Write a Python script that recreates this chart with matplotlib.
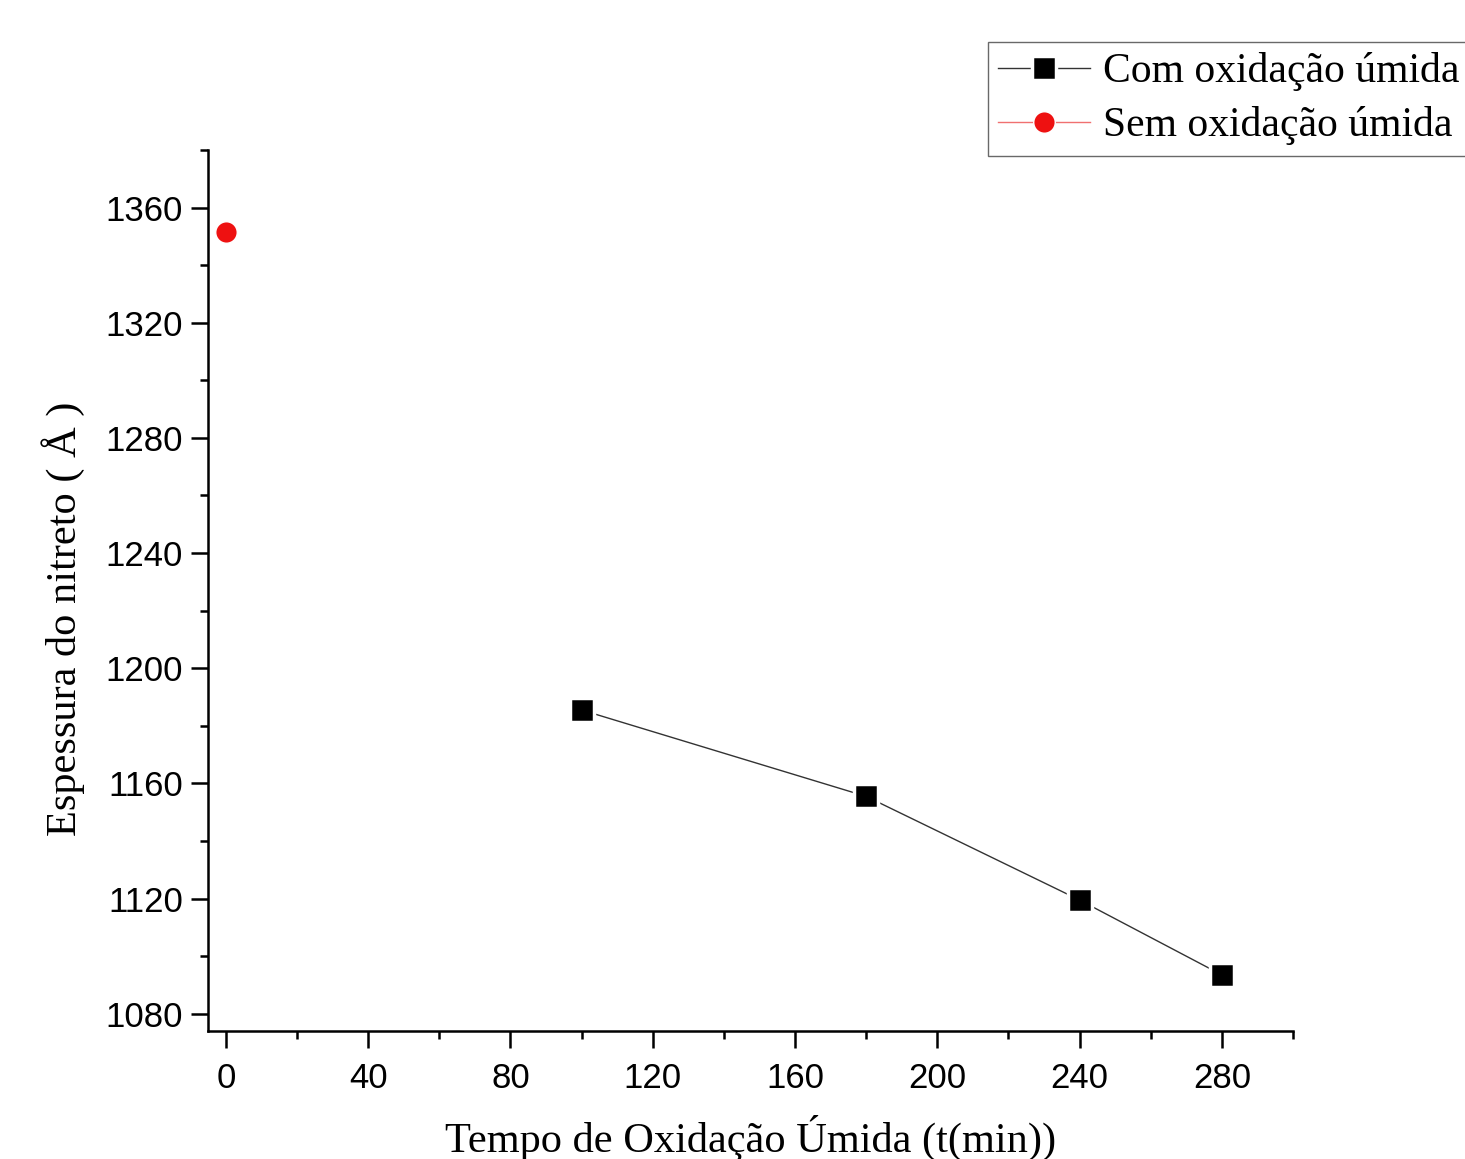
import matplotlib
matplotlib.use('Agg')
import matplotlib.pyplot as plt
from matplotlib.ticker import MultipleLocator

# Data
t_com = [100, 180, 240, 280]
esp_com = [1185.5, 1155.5, 1119.5, 1093.5]
t_sem = [0]
esp_sem = [1351.5]

fig = plt.figure(figsize=(14.65, 11.59), dpi=100)
ax = fig.add_axes([0.142, 0.1104, 0.7406, 0.7602])

ax.plot(t_com, esp_com, color='#333333', lw=1.0, marker='s', ms=17,
        mfc='black', mec='white', mew=2.5, label='Com oxidação úmida')
ax.plot(t_sem, esp_sem, color='#f07070', lw=1.0, marker='o', ms=15.5,
        mfc='#ee1111', mec='white', mew=1.0, label='Sem oxidação úmida')

ax.set_xlim(-5, 300)
ax.set_ylim(1074, 1380)
ax.xaxis.set_major_locator(MultipleLocator(40))
ax.xaxis.set_minor_locator(MultipleLocator(20))
ax.yaxis.set_major_locator(MultipleLocator(40))
ax.yaxis.set_minor_locator(MultipleLocator(20))

for s in ['top', 'right']:
    ax.spines[s].set_visible(False)
for s in ['left', 'bottom']:
    ax.spines[s].set_linewidth(1.8)

ax.tick_params(which='major', direction='out', length=12, width=1.8,
               labelsize=25)
ax.tick_params(axis='x', which='major', pad=10)
ax.tick_params(axis='y', which='major', pad=6)
ax.tick_params(which='minor', direction='out', length=6, width=1.8)
for lbl in ax.get_xticklabels() + ax.get_yticklabels():
    lbl.set_fontfamily('Liberation Sans')

ax.set_xlabel('Tempo de Oxidação Úmida (t(min))', fontfamily='Liberation Serif',
              fontsize=30.5, labelpad=15)
ax.set_ylabel('Espessura do nitreto ( Å )', fontfamily='Liberation Serif',
              fontsize=30.5, labelpad=15)
ax.yaxis.label.set_y(0.468)

leg = fig.legend(loc='upper left', bbox_to_anchor=(988 / 1465, 1 - 42 / 1159),
                 prop={'family': 'Liberation Serif', 'size': 30},
                 frameon=True, fancybox=False, edgecolor='#444444',
                 handlelength=2.2, handletextpad=0.3, borderpad=0.25,
                 labelspacing=0.36, borderaxespad=0)
leg.get_frame().set_linewidth(1.0)

fig.savefig('out.png', dpi=100)
